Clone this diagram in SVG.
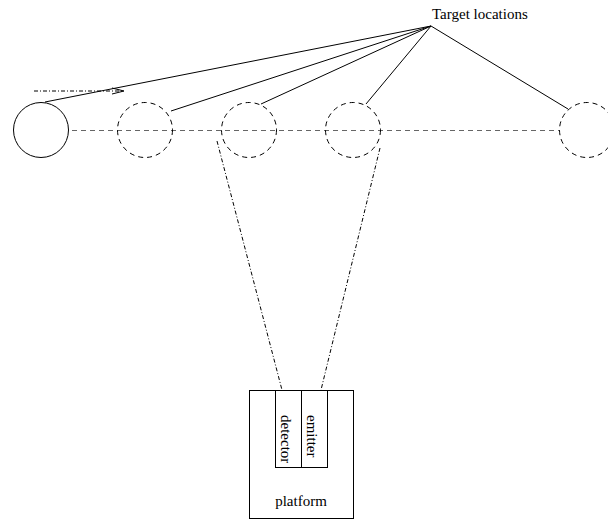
<svg xmlns="http://www.w3.org/2000/svg" width="608" height="521" viewBox="0 0 608 521">
<style>
.t{font-family:"Liberation Serif","Times New Roman",serif;font-size:15px;fill:#000}
.solid{fill:none;stroke:#000;stroke-width:1}
.dc{fill:none;stroke:#000;stroke-width:1;stroke-dasharray:5,4}
.dh{fill:none;stroke:#666;stroke-width:1;stroke-dasharray:5,4}
.dd{fill:none;stroke:#000;stroke-width:1;stroke-dasharray:4,2,1,2}
</style>
<defs>
<marker id="ah" markerWidth="14" markerHeight="8" refX="12" refY="4" orient="auto" markerUnits="userSpaceOnUse">
<path d="M0,1 L12,4 L0,7" fill="none" stroke="#000" stroke-width="1"/>
</marker>
</defs>
<g id="connectors">
<line class="dh" x1="72" y1="130.5" x2="560" y2="130.5"/>
<line class="dd" x1="34" y1="91" x2="124" y2="91" marker-end="url(#ah)"/>
<line class="solid" x1="431" y1="26" x2="45" y2="102"/>
<line class="solid" x1="431" y1="26" x2="171" y2="111"/>
<line class="solid" x1="431" y1="26" x2="261" y2="104"/>
<line class="solid" x1="431" y1="26" x2="366" y2="104"/>
<line class="solid" x1="431" y1="26" x2="568" y2="109"/>
<line class="dd" x1="217" y1="141" x2="282" y2="390"/>
<line class="dd" x1="380" y1="148" x2="321" y2="390"/>
</g>
<g id="start"><circle class="solid" cx="41" cy="130" r="27.5"/></g>
<g id="pos2"><circle class="dc" cx="145" cy="130" r="27.5"/></g>
<g id="pos3"><circle class="dc" cx="249" cy="130" r="27.5"/></g>
<g id="pos4"><circle class="dc" cx="353" cy="130" r="27.5"/></g>
<g id="pos5"><circle class="dc" cx="587" cy="130" r="27.5"/></g>
<g id="target"><text class="t" x="432" y="19">Target locations</text></g>
<g id="platform">
<rect class="solid" x="249.5" y="390.5" width="104" height="128"/>
<text class="t" x="301" y="506" text-anchor="middle">platform</text>
</g>
<g id="detector">
<rect class="solid" x="275.5" y="390.5" width="26" height="77"/>
<text class="t" transform="translate(281,415) rotate(90)">detector</text>
</g>
<g id="emitter">
<rect class="solid" x="301.5" y="390.5" width="26" height="77"/>
<text class="t" transform="translate(307,415) rotate(90)">emitter</text>
</g>
</svg>
